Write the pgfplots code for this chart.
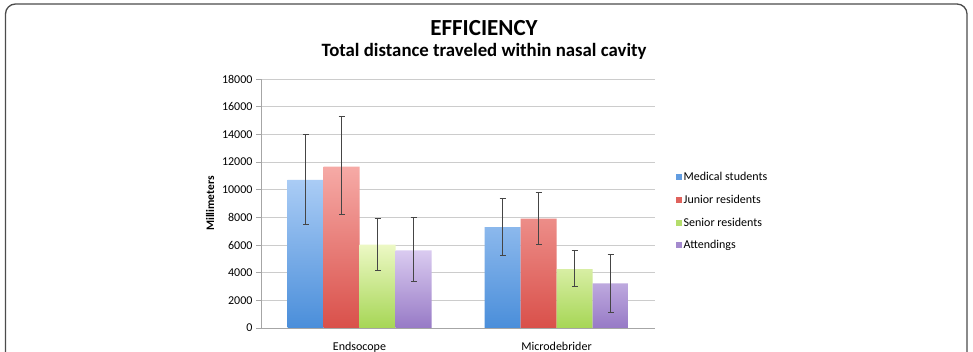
\documentclass[border=0pt]{standalone}
\usepackage{fontspec}
\setmainfont{Carlito}
\usepackage{pgfplots}
\pgfplotsset{compat=1.18}
\definecolor{bluetop}{HTML}{AACCF5}
\definecolor{bluebot}{HTML}{4A8EDA}
\definecolor{redtop}{HTML}{F6AAA6}
\definecolor{redbot}{HTML}{D9504A}
\definecolor{greentop}{HTML}{ECF8C4}
\definecolor{greenbot}{HTML}{A6D655}
\definecolor{purptop}{HTML}{DACBF0}
\definecolor{purpbot}{HTML}{977AC6}
\definecolor{errcol}{HTML}{454545}
\begin{document}
\begin{tikzpicture}[x=1pt,y=1pt]
\useasboundingbox (0,0) rectangle (973,352);
\fill[white] (0,0) rectangle (973,352);
\draw[black!70, line width=1.3pt, rounded corners=10pt] (5.5,-30) rectangle (967,348);
\node[anchor=base, font=\bfseries\fontsize{23}{27}\selectfont] at (484,316) {EFFICIENCY};
\node[anchor=base, font=\bfseries\fontsize{18.8}{22}\selectfont] at (484,295) {Total distance traveled within nasal cavity};
\begin{axis}[
  at={(261pt,24pt)}, anchor=south west,
  scale only axis, width=394pt, height=249pt,
  bar width=36pt,
  xmin=-0.5, xmax=1.5, ymin=0, ymax=18000,
  xtick={0,1}, xticklabels={Endsocope, Microdebrider},
  extra x ticks={0.5}, extra x tick labels={},
  extra x tick style={major tick length=4pt, tick align=outside, tick style={draw=black!35}},
  ytick={0,2000,...,18000},
  scaled y ticks=false,
  /pgf/number format/.cd, 1000 sep={}, assume math mode=true, /pgfplots/.cd,
  axis lines*=left,
  axis line style={draw=black!35, line width=0.8pt},
  x tick style={draw=none},
  y tick style={draw=black!35, line width=0.8pt},
  tick align=outside, major tick length=5pt,
  ymajorgrids, grid style={draw=black!20, line width=0.8pt},
  ticklabel style={font=\fontsize{12}{14}\selectfont},
  xticklabel style={yshift=-6pt},
  ylabel={Millimeters},
  ylabel style={at={(axis description cs:-0.129,0.5)}, anchor=center, font=\bfseries\fontsize{11.5}{13}\selectfont},
  legend style={draw=none, fill=none, at={(1.052,0.635)}, anchor=north west,
    font=\fontsize{12}{14}\selectfont, row sep=9pt, inner sep=0pt,
    /tikz/every even column/.append style={column sep=2pt}},
  legend cell align=left,
  legend image code/.code={\fill[#1] (0pt,-3pt) rectangle (6pt,3pt);},
  error bars/y dir=both, error bars/y explicit,
  error bars/error bar style={draw=errcol, line width=0.9pt},
  error bars/error mark options={rotate=90, mark size=3pt, draw=errcol, line width=0.9pt},
]
\addplot[ybar, bar shift=0pt, draw=none, top color=bluetop, bottom color=bluebot, forget plot] coordinates {(-0.274112,10700) += (0,3270) -= (0,3210) (0.725888,7300) += (0,2040) -= (0,2090)};
\addplot[ybar, bar shift=0pt, draw=none, top color=redtop, bottom color=redbot, forget plot] coordinates {(-0.091371,11670) += (0,3620) -= (0,3490) (0.908629,7900) += (0,1870) -= (0,1880)};
\addplot[ybar, bar shift=0pt, draw=none, top color=greentop, bottom color=greenbot, forget plot] coordinates {(0.091371,6020) += (0,1880) -= (0,1840) (1.091371,4250) += (0,1320) -= (0,1270)};
\addplot[ybar, bar shift=0pt, draw=none, top color=purptop, bottom color=purpbot, forget plot] coordinates {(0.274112,5620) += (0,2350) -= (0,2230) (1.274112,3220) += (0,2110) -= (0,2090)};
\addlegendimage{fill=bluebot!75!bluetop, draw=none}
\addlegendentry{Medical students}
\addlegendimage{fill=redbot!80!redtop, draw=none}
\addlegendentry{Junior residents}
\addlegendimage{fill=greenbot!80!greentop, draw=none}
\addlegendentry{Senior residents}
\addlegendimage{fill=purpbot!80!purptop, draw=none}
\addlegendentry{Attendings}
\end{axis}
\end{tikzpicture}
\end{document}
